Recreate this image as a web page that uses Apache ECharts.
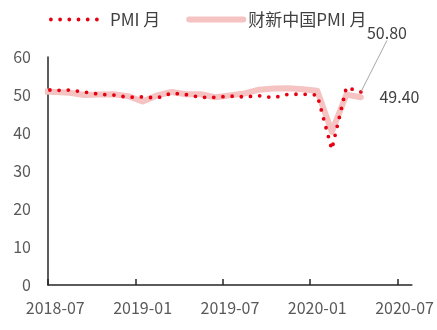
<!DOCTYPE html>
<html>
<head>
<meta charset="utf-8">
<script src="https://cdn.jsdelivr.net/npm/echarts@6/dist/echarts.min.js"></script>
<style>
  html, body { margin: 0; padding: 0; background: #fff; }
  #chart { width: 437px; height: 330px; }
</style>
</head>
<body>
<div id="chart"></div>
<script>
// Monthly readings, mid-month dated (first month sits just before the axis start)
const months = ['2018-06','2018-07','2018-08','2018-09','2018-10','2018-11','2018-12',
                '2019-01','2019-02','2019-03','2019-04','2019-05','2019-06','2019-07',
                '2019-08','2019-09','2019-10','2019-11','2019-12','2020-01','2020-02',
                '2020-03','2020-04'];
const pmi    = [51.5, 51.2, 51.3, 50.8, 50.2, 50.0, 49.4, 49.5, 49.2, 50.5, 50.1, 49.4,
                49.4, 49.7, 49.5, 49.8, 49.3, 50.2, 50.2, 50.0, 35.7, 52.0, 50.8];
const caixin = [51.0, 50.8, 50.6, 50.0, 50.1, 50.2, 49.7, 48.3, 49.9, 50.8, 50.2, 50.2,
                49.4, 49.9, 50.4, 51.4, 51.7, 51.8, 51.5, 51.1, 40.3, 50.1, 49.4];
const tickLabels = ['2018-07', '2019-01', '2019-07', '2020-01', '2020-07'];
const seriesNames = ['PMI 月', '财新中国PMI 月'];

// month string -> months since the first tick label, placed mid-month
const base = tickLabels[0].split('-').map(Number);
function monthPos(s) {
  const [y, m] = s.split('-').map(Number);
  return (y - base[0]) * 12 + (m - base[1]) + 0.5;
}
const tickPos = tickLabels.map(s => monthPos(s) - 0.5);
const labelPos = tickLabels.map(s => monthPos(s));

function buildData(values, labelOpt) {
  return values.map((v, i) => {
    const item = { value: [monthPos(months[i]), v] };
    if (i === values.length - 1) {
      // invisible anchor that carries the end-value label
      item.symbol = 'circle';
      item.symbolSize = 1;
      item.itemStyle = { color: 'rgba(0,0,0,0)' };
      item.label = labelOpt;
    }
    return item;
  });
}

const font = 'Noto Sans CJK SC, Microsoft YaHei, sans-serif';
const chart = echarts.init(document.getElementById('chart'), null, { renderer: 'canvas' });

chart.setOption({
  animation: false,
  textStyle: { fontFamily: font },
  legend: {
    left: 44,
    top: 6,
    itemWidth: 54,
    itemHeight: 14,
    itemGap: 26,
    itemStyle: { opacity: 0 },
    lineStyle: { width: 'inherit' },
    textStyle: { color: '#404040', fontSize: 17, fontFamily: font },
    data: seriesNames
  },
  grid: { left: 48, right: 25, top: 57, bottom: 45, containLabel: false },
  xAxis: {
    type: 'value',
    min: 0,
    max: 25,
    axisLine: { show: true, lineStyle: { color: '#262626', width: 1.5 } },
    axisTick: { show: true, inside: true, length: 6, customValues: tickPos,
                lineStyle: { color: '#262626', width: 1.5 } },
    axisLabel: {
      customValues: labelPos,
      formatter: v => tickLabels[labelPos.indexOf(v)] || '',
      color: '#595959', fontSize: 16, fontFamily: font, margin: 15
    },
    splitLine: { show: false }
  },
  yAxis: {
    type: 'value',
    min: 0,
    max: 60,
    interval: 10,
    axisLine: { show: true, lineStyle: { color: '#262626', width: 1.5 } },
    axisTick: { show: false },
    axisLabel: { color: '#595959', fontSize: 16, fontFamily: font, margin: 17 },
    splitLine: { show: false }
  },
  series: [
    {
      name: seriesNames[0],
      type: 'line',
      z: 3,
      symbol: 'none',
      clip: true,
      lineStyle: { color: '#e60012', width: 3.8, type: [0, 9.2], cap: 'round' },
      itemStyle: { color: '#e60012' },
      emphasis: { disabled: true },
      labelLine: { show: true, lineStyle: { color: '#a6a6a6', width: 1 } },
      labelLayout: { dx: 26, dy: -46 },
      data: buildData(pmi, {
        show: true,
        position: 'top',
        formatter: p => p.value[1].toFixed(2),
        color: '#404040', fontSize: 16, fontFamily: font
      })
    },
    {
      name: seriesNames[1],
      type: 'line',
      z: 2,
      symbol: 'none',
      clip: true,
      lineStyle: { color: '#f6c3c3', width: 6, cap: 'round', join: 'round' },
      itemStyle: { color: '#f6c3c3' },
      emphasis: { disabled: true },
      data: buildData(caixin, {
        show: true,
        position: 'right',
        distance: 18,
        formatter: p => p.value[1].toFixed(2),
        color: '#404040', fontSize: 16, fontFamily: font
      })
    }
  ]
});
</script>
</body>
</html>
